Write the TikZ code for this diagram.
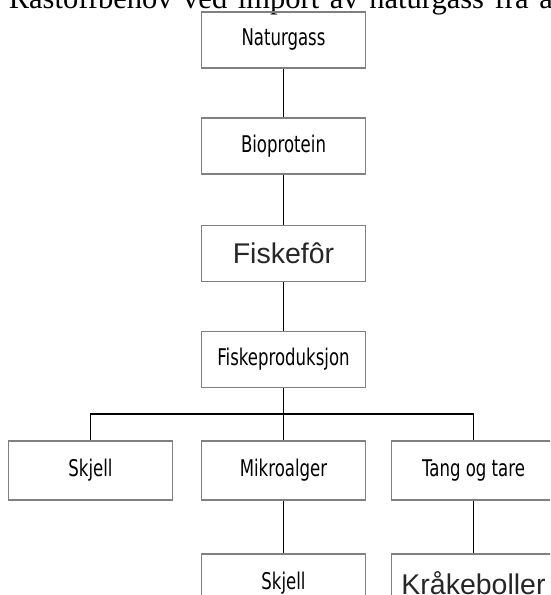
\documentclass[tikz,border=0pt]{standalone}
\usepackage{fontspec}
\setmainfont{Liberation Serif}
\newfontfamily\narrowsans[FakeStretch=0.72]{DejaVu Sans}
\newfontfamily\plainsans{Liberation Sans}
\definecolor{boxgray}{gray}{0.5}
\tikzset{box/.style={draw=boxgray, line width=1.3pt, minimum width=164pt, minimum height=56pt, inner sep=0pt,
    font=\narrowsans\fontsize{23}{27}\selectfont},
% the two boxes set in the wide face
bigbox/.style={box, text=black!85, font=\plainsans\fontsize{28.5}{32}\selectfont},
link/.style={line width=1.8pt}}

\begin{document}
\begin{tikzpicture}[x=1pt,y=-1pt]
\useasboundingbox (0,0) rectangle (550,595);
\clip (0,0) rectangle (550,595);

% running text above, cut at the page edge
\node[anchor=base east, inner sep=0pt, font=\fontsize{30.5}{33}\selectfont] (head) at (553,8)
    {\spaceskip=0.35em Råstoffbehov ved import av naturgass fra a};

\node[box] (gas) at (283.5,40) {Naturgass};
\node[box] (prot) at (283.5,146) {Bioprotein};
\node[bigbox] (feed) at (283.5,253.5) {Fiskefôr};
\node[box] (prod) at (283.5,359.5) {Fiskeproduksjon};

\coordinate (bar) at (283.5,414);

\node[box, minimum height=59pt] (shellA) at (90.5,470.5) {Skjell};
\node[box, minimum height=59pt] (algae) at (283.5,470.5) {Mikroalger};
\node[box, minimum height=59pt] (weed) at (473.5,470.5) {Tang og tare};

\node[box, minimum height=59pt] (shellB) at (283.5,583.5) {Skjell};
\node[bigbox, minimum height=59pt] (urchin) at (473.5,583.5) {Kråkeboller};

\foreach \a/\b in {gas/prot, prot/feed, feed/prod, prod/algae, algae/shellB, weed/urchin}
    \draw[link] (\a.south) -- (\b.north);

\draw[link] (shellA.north) |- (bar) -| (weed.north);

\end{tikzpicture}
\end{document}
